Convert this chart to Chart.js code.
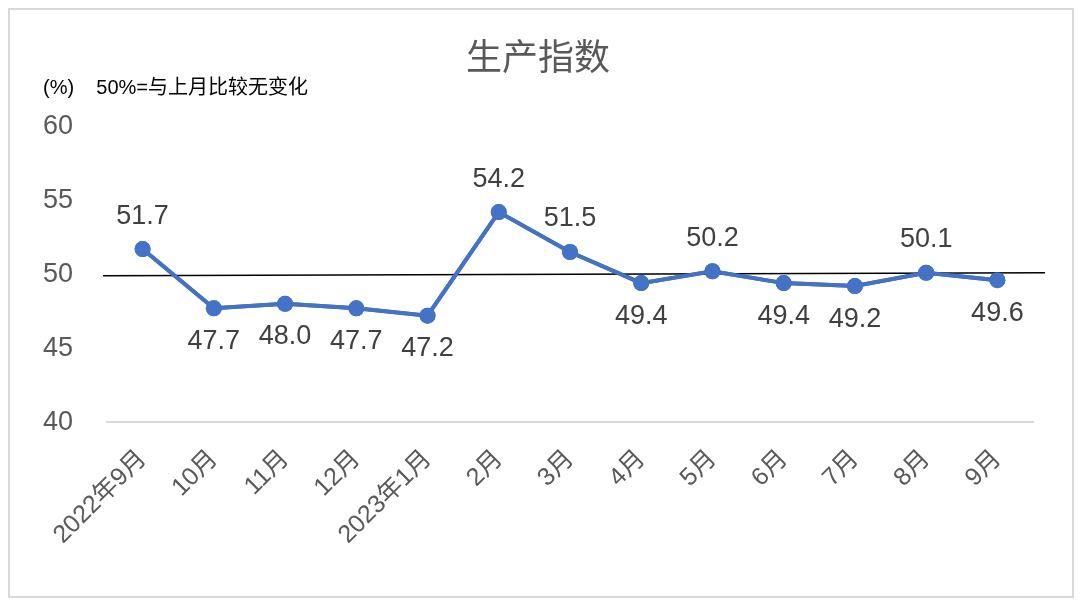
<!DOCTYPE html>
<html>
<head>
<meta charset="utf-8">
<script src="https://cdn.jsdelivr.net/npm/chart.js@4"></script>
<style>
  html, body { margin: 0; padding: 0; background: #fff; }
  #frame { position: absolute; left: 8px; top: 8px; width: 1062px; height: 586px; border: 2px solid #d9d9d9; }
  #wrap { position: absolute; left: 0; top: 0; width: 1080px; height: 611px; }
</style>
</head>
<body>
<div id="frame"></div>
<div id="wrap"><canvas id="prod-index" width="1080" height="611"></canvas></div>
<script>
  // data
  var months = ["2022年9月", "10月", "11月", "12月", "2023年1月", "2月", "3月", "4月", "5月", "6月", "7月", "8月", "9月"];
  var indexValues = [51.7, 47.7, 48.0, 47.7, 47.2, 54.2, 51.5, 49.4, 50.2, 49.4, 49.2, 50.1, 49.6];
  var labelAbove = [true, false, false, false, false, true, true, false, true, false, false, true, false];
  var yTicks = [40, 45, 50, 55, 60];
  var baseline = 50;

  var fontFamily = "'Liberation Sans', 'Noto Sans CJK SC', sans-serif";

  // value labels + the black 50 line
  var extras = {
    id: 'extras',
    afterDatasetsDraw: function (chart) {
      var ctx = chart.ctx;
      var y = chart.scales.y.getPixelForValue(baseline);
      var area = chart.chartArea;
      ctx.save();
      ctx.strokeStyle = '#000';
      ctx.lineWidth = 1.5;
      ctx.beginPath();
      ctx.moveTo(area.left - 4, y + 1.5);
      ctx.lineTo(area.right + 12, y - 1.5);
      ctx.stroke();
      ctx.restore();

      // redraw the series on top of the line
      chart.getDatasetMeta(0).controller.draw();

      var meta = chart.getDatasetMeta(0);
      ctx.save();
      ctx.font = '27px ' + fontFamily;
      ctx.fillStyle = '#404040';
      ctx.textAlign = 'center';
      ctx.textBaseline = 'middle';
      meta.data.forEach(function (pt, i) {
        var dy = labelAbove[i] ? -33 : 33;
        ctx.fillText(indexValues[i].toFixed(1), pt.x, pt.y + dy);
      });
      ctx.restore();
    }
  };

  var prodChart = new Chart(document.getElementById("prod-index"), {
    type: 'line',
    data: {
      labels: months,
      datasets: [
        {
          label: "生产指数",
          data: indexValues,
          borderColor: '#4472c4',
          backgroundColor: '#4472c4',
          borderWidth: 4,
          pointRadius: 8,
          pointBorderWidth: 0,
          tension: 0
        }
      ]
    },
    options: {
      responsive: false,
      animation: false,
      devicePixelRatio: 1,
      layout: {
        padding: { left: 43, right: 47, top: 20, bottom: 47 }
      },
      plugins: {
        legend: { display: false },
        tooltip: { enabled: false },
        title: {
          display: true,
          text: '生产指数',
          color: '#595959',
          font: { size: 36, family: fontFamily, weight: 'normal' },
          padding: { top: 18, bottom: -5 }
        },
        subtitle: {
          display: true,
          text: '(%)    50%=与上月比较无变化',
          align: 'start',
          color: '#000',
          font: { size: 20, family: fontFamily },
          padding: { bottom: 26 }
        }
      },
      scales: {
        x: {
          offset: true,
          grid: { display: false },
          border: { display: true, color: '#d9d9d9', width: 2 },
          // rotated first label may hang into the left margin, like the original
          afterFit: function (scale) { scale.paddingLeft = 0; },
          ticks: {
            color: '#595959',
            font: { size: 25, family: fontFamily },
            minRotation: 45,
            maxRotation: 45,
            padding: 14
          }
        },
        y: {
          min: 40,
          max: 60,
          afterBuildTicks: function (axis) {
            axis.ticks = yTicks.map(function (v) { return { value: v }; });
          },
          afterFit: function (scale) { scale.width = 64; },
          grid: { display: false, drawTicks: false },
          border: { display: false },
          ticks: {
            color: '#595959',
            font: { size: 27, family: fontFamily },
            padding: 34
          }
        }
      }
    },
    plugins: [extras]
  });
</script>
</body>
</html>
